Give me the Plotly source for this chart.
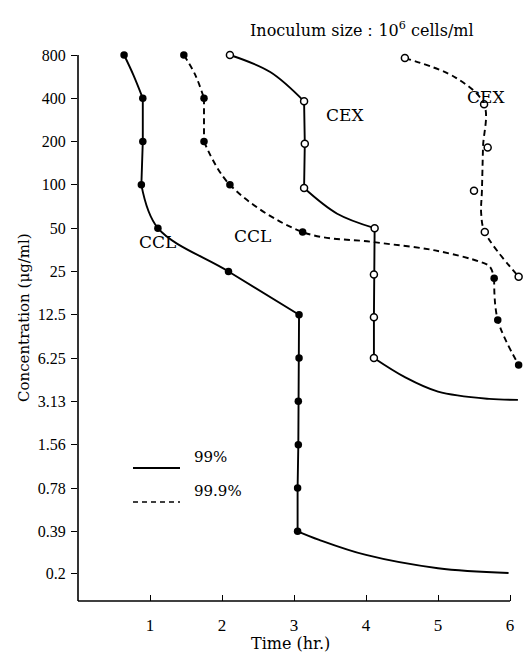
import plotly.graph_objects as go

# ---- data: time (hr) to reach 99% / 99.9% kill vs drug concentration (ug/ml) ----
conc_ticks = [800, 400, 200, 100, 50, 25, 12.5, 6.25, 3.13, 1.56, 0.78, 0.39, 0.2]
conc_labels = ["800", "400", "200", "100", "50", "25", "12.5", "6.25",
               "3.13", "1.56", "0.78", "0.39", "0.2"]
time_ticks = [1, 2, 3, 4, 5, 6]

# CCL, 99% kill (filled circles, solid curve)
ccl99_t = [0.64, 0.90, 0.90, 0.88, 1.11, 2.09, 3.07, 3.07, 3.06, 3.06, 3.05, 3.05]
ccl99_c = [800, 400, 200, 100, 50, 25, 12.5, 6.25, 3.13, 1.56, 0.78, 0.39]
ccl99_top_t = [0.77]
ccl99_top_c = [580]
ccl99_tail_t = [3.35, 4.0, 5.0, 5.98]
ccl99_tail_c = [0.34, 0.267, 0.216, 0.2]

# CCL, 99.9% kill (filled circles, dashed curve)
ccl999_t = [1.47, 1.75, 1.75, 2.11, 3.12, 5.78, 5.83, 6.12]
ccl999_c = [800, 400, 200, 100, 47, 22.4, 11.5, 5.6]
ccl999_top_t = [1.63]
ccl999_top_c = [580]
ccl999_mid_t = [4.11, 4.96, 5.60, 5.72]
ccl999_mid_c = [40, 35, 29, 27]

# CEX, 99% kill (open circles, solid curve)
cex99_t = [2.11, 3.14, 3.15, 3.14, 4.12, 4.11, 4.11, 4.11]
cex99_c = [800, 381, 193, 95, 50, 23.8, 12, 6.25]
cex99_top_t = [2.67]
cex99_top_c = [609]
cex99_mid_t = [3.60]
cex99_mid_c = [63]
cex99_tail_t = [4.54, 5.0, 5.71, 6.11]
cex99_tail_c = [4.6, 3.65, 3.25, 3.2]

# CEX, 99.9% kill (open circles, smoothed dashed curve)
cex999_t = [4.54, 5.64, 5.69, 5.50, 5.65, 6.12]
cex999_c = [762, 363, 182, 91, 47, 23]
cex999_fit_t = [4.54, 5.25, 5.64, 5.625, 5.61, 5.60, 5.65, 6.12]
cex999_fit_c = [762, 555, 363, 182, 91, 63, 47, 23]

SERIF = "Liberation Serif"
WIDE = "DejaVu Serif"
INK = "black"
DASH = "6px,4px"

fig = go.Figure()


def curve(t, c, dash="solid", shape="spline"):
    fig.add_trace(go.Scatter(
        x=t, y=c, mode="lines", showlegend=False, hoverinfo="skip",
        line=dict(color=INK, width=1.9, dash=dash, shape=shape, smoothing=1.0)))


def points(t, c, filled):
    fig.add_trace(go.Scatter(
        x=t, y=c, mode="markers", showlegend=False,
        marker=dict(size=7.5 if filled else 7, symbol="circle",
                    color=INK if filled else "white",
                    line=dict(color=INK, width=0 if filled else 1.5))))


# CCL 99%
curve(ccl99_t[:1] + ccl99_top_t + ccl99_t[1:2], ccl99_c[:1] + ccl99_top_c + ccl99_c[1:2])
curve(ccl99_t[1:4], ccl99_c[1:4], shape="linear")
curve(ccl99_t[3:7], ccl99_c[3:7])
curve(ccl99_t[6:], ccl99_c[6:], shape="linear")
curve(ccl99_t[-1:] + ccl99_tail_t, ccl99_c[-1:] + ccl99_tail_c)

# CCL 99.9%
curve(ccl999_t[:1] + ccl999_top_t + ccl999_t[1:2], ccl999_c[:1] + ccl999_top_c + ccl999_c[1:2],
      dash=DASH)
curve(ccl999_t[1:3], ccl999_c[1:3], dash=DASH, shape="linear")
curve(ccl999_t[2:5] + ccl999_mid_t + ccl999_t[5:6],
      ccl999_c[2:5] + ccl999_mid_c + ccl999_c[5:6], dash=DASH)
curve(ccl999_t[5:], ccl999_c[5:], dash=DASH)

# CEX 99%
curve(cex99_t[:1] + cex99_top_t + cex99_t[1:2], cex99_c[:1] + cex99_top_c + cex99_c[1:2])
curve(cex99_t[1:4], cex99_c[1:4], shape="linear")
curve(cex99_t[3:4] + cex99_mid_t + cex99_t[4:5], cex99_c[3:4] + cex99_mid_c + cex99_c[4:5])
curve(cex99_t[4:], cex99_c[4:], shape="linear")
curve(cex99_t[-1:] + cex99_tail_t, cex99_c[-1:] + cex99_tail_c)

# CEX 99.9%
curve(cex999_fit_t, cex999_fit_c, dash=DASH)

points(ccl99_t, ccl99_c, True)
points(ccl999_t, ccl999_c, True)
points(cex99_t, cex99_c, False)
points(cex999_t, cex999_c, False)

# plot area in page pixels (x axis runs a little past 6 hr so the late points fit)
W, H = 529, 664
L, R, T, B = 78, 528, 48, 601
X6 = 510      # pixel of the 6 hr tick
Y800 = 55     # pixel of the 800 tick


def px(x):
    return (x - L) / (R - L)


def py(y):
    return (B - y) / (B - T)


def label(text, x, y, size=16, family=WIDE, **kw):
    fig.add_annotation(text=text, x=px(x), y=py(y), xref="paper", yref="paper",
                       showarrow=False, font=dict(family=family, size=size, color=INK), **kw)


label("CCL", 137, 242, size=17)
label("CCL", 252, 224, size=17)
label("CEX", 345, 103, size=17)
label("CEX", 507, 85, size=17)

label("Inoculum size：10<sup>6</sup> cells/ml", 362, 17, size=16)
label("Time (hr.)", 290, 655, size=16)
label("Concentration (\u03bcg/ml)", 13, 318, size=15, textangle=-90)

# axis lines stop at 6 hr and 800 ug/ml
fig.add_shape(type="line", xref="paper", yref="paper", x0=0, x1=px(X6), y0=0, y1=0,
              line=dict(color=INK, width=1.6))
fig.add_shape(type="line", xref="paper", yref="paper", x0=0, x1=0, y0=0, y1=py(Y800),
              line=dict(color=INK, width=1.6))

# legend
fig.add_shape(type="line", xref="paper", yref="paper", x0=px(133), x1=px(180),
              y0=py(468), y1=py(468), line=dict(color=INK, width=2))
fig.add_shape(type="line", xref="paper", yref="paper", x0=px(133), x1=px(180),
              y0=py(502), y1=py(502), line=dict(color=INK, width=1.6, dash="5px,4px"))
label("99%", 192, 468, size=15, xanchor="left")
label("99.9%", 192, 502, size=15, xanchor="left")

fig.update_layout(
    width=W, height=H,
    margin=dict(l=L, r=W - R, t=T, b=H - B, pad=0),
    paper_bgcolor="white", plot_bgcolor="white",
    font=dict(family=SERIF, size=15, color=INK),
    showlegend=False,
    xaxis=dict(range=[0, 6.25], tickvals=time_ticks, ticks="inside", ticklen=6,
               tickwidth=1.3, tickcolor=INK, showline=False,
               showgrid=False, zeroline=False,
               ticklabelstandoff=12, tickfont=dict(family=SERIF, size=17)),
    yaxis=dict(type="log", range=[-0.8937, 2.9518], tickvals=conc_ticks,
               ticktext=conc_labels, ticks="outside", ticklen=6, tickwidth=1.3,
               tickcolor=INK, showline=False,
               showgrid=False, zeroline=False, ticklabelstandoff=2,
               tickfont=dict(family=SERIF, size=16)),
)

fig.write_html("out.html")
